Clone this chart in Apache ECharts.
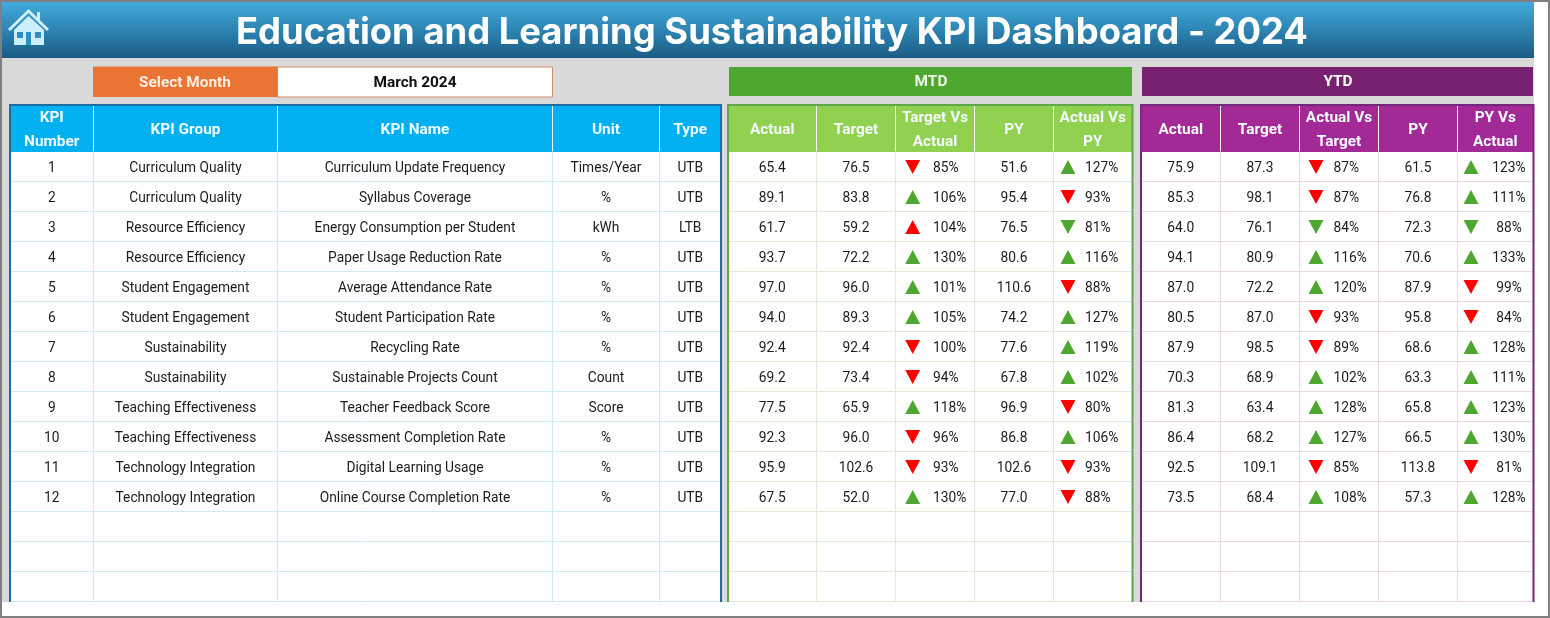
<!DOCTYPE html>
<html>
<head>
<meta charset="utf-8">
<style>
  html, body { margin: 0; padding: 0; background: #fff; }
  #chart { width: 1550px; height: 618px; }
</style>
<script src="https://cdn.jsdelivr.net/npm/echarts@6/dist/echarts.min.js"></script>
</head>
<body>
<div id="chart"></div>
<script>
const kpiNumbers = [1, 2, 3, 4, 5, 6, 7, 8, 9, 10, 11, 12];
const kpiGroups = ["Curriculum Quality", "Curriculum Quality", "Resource Efficiency", "Resource Efficiency", "Student Engagement", "Student Engagement", "Sustainability", "Sustainability", "Teaching Effectiveness", "Teaching Effectiveness", "Technology Integration", "Technology Integration"];
const kpiNames = ["Curriculum Update Frequency", "Syllabus Coverage", "Energy Consumption per Student", "Paper Usage Reduction Rate", "Average Attendance Rate", "Student Participation Rate", "Recycling Rate", "Sustainable Projects Count", "Teacher Feedback Score", "Assessment Completion Rate", "Digital Learning Usage", "Online Course Completion Rate"];
const units = ["Times/Year", "%", "kWh", "%", "%", "%", "%", "Count", "Score", "%", "%", "%"];
const types = ["UTB", "UTB", "LTB", "UTB", "UTB", "UTB", "UTB", "UTB", "UTB", "UTB", "UTB", "UTB"];

const mtdActual = ["65.4", "89.1", "61.7", "93.7", "97.0", "94.0", "92.4", "69.2", "77.5", "92.3", "95.9", "67.5"];
const mtdTarget = ["76.5", "83.8", "59.2", "72.2", "96.0", "89.3", "92.4", "73.4", "65.9", "96.0", "102.6", "52.0"];
const mtdTargetVsActual = [85, 106, 104, 130, 101, 105, 100, 94, 118, 96, 93, 130];
const mtdTargetVsActualUp = [0, 1, 1, 1, 1, 1, 0, 0, 1, 0, 0, 1];
const mtdPY = ["51.6", "95.4", "76.5", "80.6", "110.6", "74.2", "77.6", "67.8", "96.9", "86.8", "102.6", "77.0"];
const mtdActualVsPY = [127, 93, 81, 116, 88, 127, 119, 102, 80, 106, 93, 88];
const mtdActualVsPYUp = [1, 0, 0, 1, 0, 1, 1, 1, 0, 1, 0, 0];

const ytdActual = ["75.9", "85.3", "64.0", "94.1", "87.0", "80.5", "87.9", "70.3", "81.3", "86.4", "92.5", "73.5"];
const ytdTarget = ["87.3", "98.1", "76.1", "80.9", "72.2", "87.0", "98.5", "68.9", "63.4", "68.2", "109.1", "68.4"];
const ytdActualVsTarget = [87, 87, 84, 116, 120, 93, 89, 102, 128, 127, 85, 108];
const ytdActualVsTargetUp = [0, 0, 0, 1, 1, 0, 0, 1, 1, 1, 0, 1];
const ytdPY = ["61.5", "76.8", "72.3", "70.6", "87.9", "95.8", "68.6", "63.3", "65.8", "66.5", "113.8", "57.3"];
const ytdPYVsActual = [123, 111, 88, 133, 99, 84, 128, 111, 123, 130, 81, 128];
const ytdPYVsActualUp = [1, 1, 0, 1, 0, 0, 1, 1, 1, 1, 0, 1];

const leftHeaders = [["KPI", "Number"], ["KPI Group"], ["KPI Name"], ["Unit"], ["Type"]];
const mtdHeaders = [["Actual"], ["Target"], ["Target Vs", "Actual"], ["PY"], ["Actual Vs", "PY"]];
const ytdHeaders = [["Actual"], ["Target"], ["Actual Vs", "Target"], ["PY"], ["PY Vs", "Actual"]];

// layout, in pixels along the x axis
const leftEdges = [10, 93.5, 277.5, 552.5, 659.5, 721];
const mtdEdges = [728, 816.5, 895.5, 974.5, 1053.5, 1132];
const ytdEdges = [1141, 1220.5, 1299.5, 1378.5, 1457.5, 1533];
const ROW_COUNT = 15;
const HEADER_Y = -0.72;
const TEXT_SHIFT = 0.083; // glyphs sit a little low in the sheet rows
const BODY_FONT = "13.75px Roboto";
const HEAD_FONT = "bold 15.4px Roboto";
const GOOD = "#4ea72e";
const BAD = "#ff0000";

const mid = (edges, c) => (edges[c] + edges[c + 1]) / 2;

const textSeries = cells => ({
  type: "custom",
  coordinateSystem: "cartesian2d",
  clip: false,
  silent: true,
  z: 5,
  data: cells.map(c => [c.x, c.y]),
  renderItem: (params, api) => {
    const c = cells[params.dataIndex];
    const pt = api.coord([api.value(0), api.value(1)]);
    return {
      type: "text",
      x: pt[0],
      y: pt[1],
      style: {
        text: c.text,
        font: c.font || BODY_FONT,
        fill: c.fill || "#1c1c1c",
        align: c.align || "center",
        verticalAlign: "middle"
      }
    };
  }
});

const lineSeries = (edges, color) => {
  const lines = [];
  for (let i = 1; i <= ROW_COUNT; i++) lines.push([edges[0], i, edges[5], i]);
  for (let c = 1; c < 5; c++) lines.push([edges[c], 0, edges[c], ROW_COUNT]);
  return {
    type: "custom",
    coordinateSystem: "cartesian2d",
    clip: false,
    silent: true,
    z: 3,
    data: lines,
    renderItem: (params, api) => {
      const a = api.coord([api.value(0), api.value(1)]);
      const b = api.coord([api.value(2), api.value(3)]);
      return {
        type: "line",
        shape: { x1: a[0], y1: a[1], x2: b[0], y2: b[1] },
        style: { stroke: color, lineWidth: 1 }
      };
    }
  };
};

const headerCells = (edges, headers) => {
  const out = [];
  headers.forEach((lines, c) => {
    lines.forEach((text, n) => {
      const y = lines.length === 1 ? HEADER_Y : HEADER_Y + (n - 0.5) * 0.79;
      out.push({ x: mid(edges, c), y, text, font: HEAD_FONT, fill: "#f2fbff" });
    });
  });
  return out;
};

const columnCells = (edges, c, values) =>
  values.map((v, i) => ({ x: mid(edges, c), y: i + 0.5 + TEXT_SHIFT, text: String(v) }));

const pctCells = (x, values, align) =>
  values.map((v, i) => ({ x, y: i + 0.5 + TEXT_SHIFT, text: v + "%", align }));

// LTB rows read the other way round: up is bad
const arrowSeries = (x, ups) => ({
  type: "scatter",
  silent: true,
  z: 6,
  symbol: "triangle",
  symbolSize: [15, 14],
  data: ups.map((up, i) => ({
    value: [x, i + 0.52],
    symbolRotate: up ? 0 : 180,
    itemStyle: { color: (types[i] === "LTB") === !!up ? BAD : GOOD, opacity: 1 }
  }))
});

const cells = [
  ...headerCells(leftEdges, leftHeaders),
  ...headerCells(mtdEdges, mtdHeaders),
  ...headerCells(ytdEdges, ytdHeaders),
  ...columnCells(leftEdges, 0, kpiNumbers),
  ...columnCells(leftEdges, 1, kpiGroups),
  ...columnCells(leftEdges, 2, kpiNames),
  ...columnCells(leftEdges, 3, units),
  ...columnCells(leftEdges, 4, types),
  ...columnCells(mtdEdges, 0, mtdActual),
  ...columnCells(mtdEdges, 1, mtdTarget),
  ...pctCells(933, mtdTargetVsActual, "left"),
  ...columnCells(mtdEdges, 3, mtdPY),
  ...pctCells(1085, mtdActualVsPY, "left"),
  ...columnCells(ytdEdges, 0, ytdActual),
  ...columnCells(ytdEdges, 1, ytdTarget),
  ...pctCells(1333.5, ytdActualVsTarget, "left"),
  ...columnCells(ytdEdges, 3, ytdPY),
  ...pctCells(1509, ytdPYVsActual, "center")
];

const rect = (x, y, width, height, fill, z, stroke) => ({
  type: "rect",
  shape: { x, y, width, height },
  style: { fill, stroke: stroke || null, lineWidth: stroke ? 1 : 0 },
  z: z || 0,
  silent: true
});

const label = (x, y, text, font, fill, z) => ({
  type: "text",
  x,
  y,
  z: z || 2,
  silent: true,
  style: { text, font, fill, align: "center", verticalAlign: "middle" }
});

const frame = (x1, x2, color) => ({
  type: "polyline",
  shape: { points: [[x1, 602], [x1, 105], [x2, 105], [x2, 602]] },
  style: { stroke: color, lineWidth: 2, fill: null },
  z: 8,
  silent: true
});

const headerRule = x => ({
  type: "line",
  shape: { x1: x, y1: 106, x2: x, y2: 151 },
  style: { stroke: "#ffffff", lineWidth: 1 },
  z: 4,
  silent: true
});

const ICON = "#cdeefc";
const ICON_HOLE = "#2f8fc0";

const chrome = [
  rect(0, 0, 1550, 618, "#ffffff", 0),
  rect(2, 58, 1532, 544, "#d9d9d9", 1),
  {
    type: "rect",
    shape: { x: 2, y: 2, width: 1532, height: 56 },
    style: {
      fill: new echarts.graphic.LinearGradient(0, 0, 0, 1, [
        { offset: 0, color: "#41abdd" },
        { offset: 1, color: "#1a5c85" }
      ])
    },
    z: 1,
    silent: true
  },
  label(772, 33, "Education and Learning Sustainability KPI Dashboard - 2024", "bold 36.4px Inter", "#ffffff", 3),
  // home icon
  { type: "polygon", shape: { points: [[37, 12], [40, 12], [40, 22], [37, 19]] }, style: { fill: ICON }, z: 3, silent: true },
  { type: "polygon", shape: { points: [[14, 30], [28.5, 16], [44, 30], [44, 45], [14, 45]] }, style: { fill: ICON }, z: 3, silent: true },
  { type: "polyline", shape: { points: [[9, 30], [28.5, 11], [48, 30]] }, style: { stroke: ICON, lineWidth: 3, fill: null }, z: 3, silent: true },
  rect(17, 32, 6, 6, ICON_HOLE, 4),
  rect(35, 32, 6, 6, ICON_HOLE, 4),
  rect(26, 32, 5, 13, ICON_HOLE, 4),
  // month selector and bands
  rect(93, 66.5, 184.5, 30.5, "#ea7433", 2),
  rect(277.5, 67, 275, 30, "#ffffff", 2, "#d08a63"),
  label(185, 83, "Select Month", HEAD_FONT, "#fbeee2", 3),
  label(415, 83, "March 2024", HEAD_FONT, "#111111", 3),
  rect(729, 67, 403, 29, "#4ea72e", 2),
  label(931, 82.5, "MTD", HEAD_FONT, "#eef8e8", 3),
  rect(1142, 67, 391, 29, "#782170", 2),
  label(1338, 82.5, "YTD", HEAD_FONT, "#ffffff", 3),
  // table headers and bodies
  rect(10, 105, 711, 47, "#00b0f0", 2),
  rect(10, 152, 711, 450, "#ffffff", 2),
  rect(728, 105, 404, 47, "#92d050", 2),
  rect(728, 152, 404, 450, "#ffffff", 2),
  rect(1141, 105, 392, 47, "#a32a96", 2),
  rect(1141, 152, 392, 450, "#ffffff", 2),
  ...leftEdges.slice(1, 5).map(headerRule),
  ...mtdEdges.slice(1, 5).map(headerRule),
  ...ytdEdges.slice(1, 5).map(headerRule),
  frame(10, 721, "#1b6ea3"),
  frame(728, 1132.5, "#5fa84a"),
  frame(1141, 1533.5, "#74287c"),
  // outer window edge
  {
    type: "rect",
    shape: { x: 1, y: 1, width: 1548, height: 616 },
    style: { fill: null, stroke: "#808080", lineWidth: 2 },
    z: 9,
    silent: true
  }
];

const chart = echarts.init(document.getElementById("chart"));
chart.setOption({
  animation: false,
  graphic: { elements: chrome },
  grid: { left: 0, right: 0, top: 151.5, height: 450 },
  xAxis: { type: "value", min: 0, max: 1550, show: false },
  yAxis: { type: "value", min: 0, max: ROW_COUNT, inverse: true, show: false },
  series: [
    lineSeries(leftEdges, "#cdebf3"),
    lineSeries(mtdEdges, "#dcebd3"),
    lineSeries(ytdEdges, "#ead8ea"),
    textSeries(cells),
    arrowSeries(912.7, mtdTargetVsActualUp),
    arrowSeries(1068, mtdActualVsPYUp),
    arrowSeries(1316, ytdActualVsTargetUp),
    arrowSeries(1471, ytdPYVsActualUp)
  ]
});
</script>
</body>
</html>
